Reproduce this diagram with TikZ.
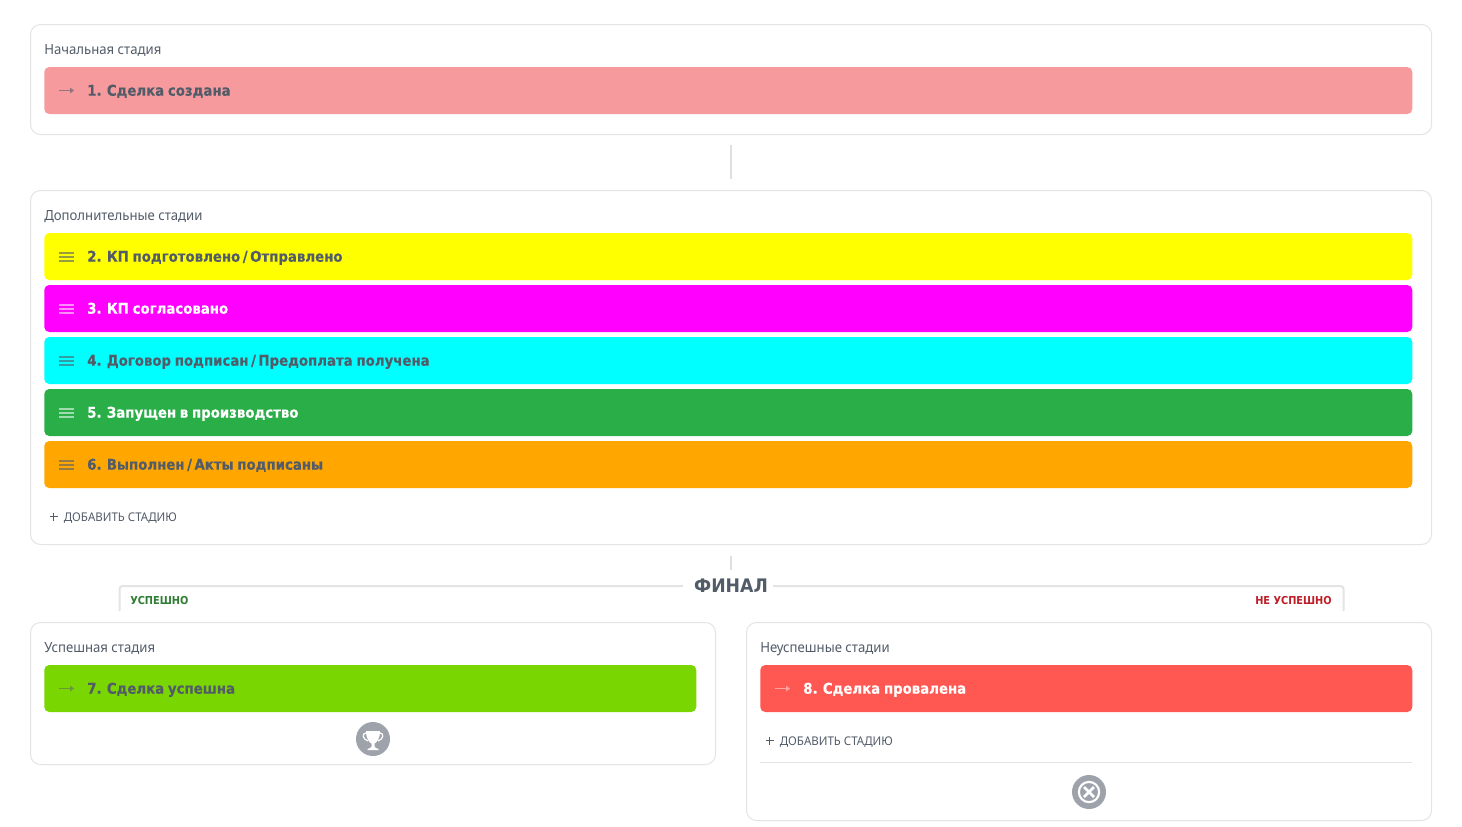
\documentclass[tikz,border=0pt]{standalone}
\usepackage{fontspec}
\setmainfont{DejaVu Sans}
\newfontfamily\lblfont[FakeStretch=0.94]{Noto Sans}
\newfontfamily\addfont[FakeStretch=0.96]{Noto Sans}
\newfontfamily\barfont[FakeStretch=0.90,FakeBold=0.25,WordSpace=0.8]{DejaVu Sans Bold}
\newfontfamily\hdfont[FakeStretch=0.925]{DejaVu Sans Bold}
\newfontfamily\tagfont[FakeStretch=0.895]{DejaVu Sans Bold}
\definecolor{ink}{HTML}{525C69}
\definecolor{edge}{HTML}{E3E4E6}
\definecolor{tick}{HTML}{DDE0E3}
\definecolor{disc}{HTML}{9EA3AB}
\definecolor{b1color}{RGB}{246,154,157}
\definecolor{b2color}{RGB}{255,255,0}
\definecolor{b3color}{RGB}{255,0,255}
\definecolor{b4color}{RGB}{0,255,255}
\definecolor{b5color}{RGB}{41,174,72}
\definecolor{b6color}{RGB}{255,166,0}
\definecolor{b7color}{RGB}{122,214,0}
\definecolor{b8color}{RGB}{255,87,82}
\definecolor{okcolor}{RGB}{46,125,50}
\definecolor{nocolor}{RGB}{190,30,40}
\tikzset{
  x=0.75pt,y=-0.75pt,
  panel/.style={draw=edge,line width=0.75pt,fill=white,rounded corners=7.5pt,inner sep=0pt,minimum width=#1*0.75pt,anchor=north west},
  stagebar/.style={rounded corners=3.75pt,inner sep=0pt,minimum height=35.25pt,minimum width=#1*0.75pt,anchor=west},
  plab/.style={anchor=west,inner sep=0pt,text=ink,text height=11pt,text depth=2.5pt,font=\lblfont\fontsize{10.5pt}{12pt}\selectfont},
  btext/.style={anchor=west,inner sep=0pt,text height=10.3pt,text depth=2.5pt,font=\barfont\fontsize{11.1pt}{13pt}\selectfont},
  addlab/.style={anchor=west,inner sep=0pt,text=ink,font=\addfont\fontsize{9pt}{11pt}\selectfont},
  wire/.style={draw=edge,line width=1.5pt},
  stem/.style={draw=tick,line width=1.5pt},
  tag/.style={inner sep=0pt,font=\tagfont\fontsize{8.2pt}{10pt}\selectfont},
}
\newcommand{\slsh}{\kern1.9pt/\kern1.9pt}
\newcommand{\hamb}[3]{\foreach \d in {-4,0,4}{\draw[#3,line width=0.9pt] (#1,#2+\d)--(#1+14.5,#2+\d);}}
\newcommand{\arrw}[3]{\draw[#3,line width=1.4pt] (#1,#2)--(#1+12,#2);\fill[#3] (#1+11,#2-3)--(#1+15,#2)--(#1+11,#2+3)--cycle;}
\newcommand{\plusm}[2]{\draw[ink,line width=1.2pt] (#1-4,#2)--(#1+4,#2) (#1,#2-4)--(#1,#2+4);}
\begin{document}
\begin{tikzpicture}
\useasboundingbox (0,0) rectangle (1462,826);
\fill[white] (0,0) rectangle (1462,826);
% panels
\node[panel=1401,minimum height=82.5pt] (p1) at (30,24) {};
\node[panel=1401,minimum height=265.5pt] (p2) at (30,190) {};
\node[panel=685,minimum height=106.5pt] (p3) at (30,622) {};
\node[panel=685,minimum height=148.5pt] (p4) at (746,622) {};
% panel labels
\node[plab] (l1) at (44,49) {Начальная стадия};
\node[plab] (l2) at (44,215) {Дополнительные стадии};
\node[plab] (l3) at (44,647) {Успешная стадия};
\node[plab] (l4) at (760,647) {Неуспешные стадии};
% bars
\node[stagebar=1368,fill=b1color] (b1) at (44,90.5) {};
\node[stagebar=1368,fill=b2color] (b2) at (44,256.5) {};
\node[stagebar=1368,fill=b3color] (b3) at (44,308.5) {};
\node[stagebar=1368,fill=b4color] (b4) at (44,360.5) {};
\node[stagebar=1368,fill=b5color] (b5) at (44,412.5) {};
\node[stagebar=1368,fill=b6color] (b6) at (44,464.5) {};
\node[stagebar=652,fill=b7color] (b7) at (44,688.5) {};
\node[stagebar=652,fill=b8color] (b8) at (760,688.5) {};
% bar texts
\node[btext,text=ink] (t1) at (87,90.5) {1. Сделка создана};
\node[btext,text=ink] (t2) at (87,256.5) {2. КП подготовлено\slsh Отправлено};
\node[btext,text=white] (t3) at (87,308.5) {3. КП согласовано};
\node[btext,text=ink] (t4) at (87,360.5) {4. Договор подписан\slsh Предоплата получена};
\node[btext,text=white] (t5) at (87,412.5) {5. Запущен в производство};
\node[btext,text=ink] (t6) at (87,464.5) {6. Выполнен\slsh Акты подписаны};
\node[btext,text=ink] (t7) at (87,688.5) {7. Сделка успешна};
\node[btext,text=white] (t8) at (803,688.5) {8. Сделка провалена};
% icons in bars
\arrw{59}{90.5}{ink!60!b1color}
\hamb{59}{257}{ink!60!b2color}
\hamb{59}{309}{white!55!b3color}
\hamb{59}{361}{ink!60!b4color}
\hamb{59}{413}{white!55!b5color}
\hamb{59}{465}{ink!60!b6color}
\arrw{59}{688.5}{ink!50!b7color}
\arrw{775}{688.5}{white!45!b8color}
% add stage
\plusm{53.5}{516.5}
\node[addlab] (a1) at (63.5,518) {ДОБАВИТЬ СТАДИЮ};
\plusm{769.5}{740.5}
\node[addlab] (a2) at (779.5,742) {ДОБАВИТЬ СТАДИЮ};
\draw[draw=edge,line width=0.75pt] (760,762.5)--(1412,762.5);
% connectors
\coordinate (s1a) at (731,144.5);
\coordinate (s1b) at (731,178.5);
\coordinate (s2a) at (731,555.5);
\coordinate (s2b) at (731,570);
\draw[stem] (s1a)--(s1b);
\draw[stem] (s2a)--(s2b);
\node[inner sep=0pt,text=ink,font=\hdfont\fontsize{14pt}{16pt}\selectfont] (fin) at (731,585.5) {ФИНАЛ};
\coordinate (wl) at (119.5,611);
\coordinate (wr) at (1343.5,611);
\draw[wire,rounded corners=2.25pt] (wl)|-(683,586);
\draw[wire,rounded corners=2.25pt] (wr)|-(773,586);
\node[tag,anchor=west,text=okcolor] (ok) at (130,600.7) {УСПЕШНО};
\node[tag,anchor=east,text=nocolor] (no) at (1332,600.7) {НЕ УСПЕШНО};
% trophy
\node[circle,fill=disc,minimum size=25.5pt,inner sep=0pt] (cup) at (373,739) {};
\fill[white] (366,731) -- (380,731) .. controls (380,739) and (376.5,742.5) .. (374.5,743.5) -- (374.5,746.5) .. controls (375,748) and (377,748.5) .. (378.5,749) -- (378.5,750) -- (367.5,750) -- (367.5,749) .. controls (369,748.5) and (371,748) .. (371.5,746.5) -- (371.5,743.5) .. controls (369.5,742.5) and (366,739) .. (366,731) -- cycle;
\draw[white,line width=0.9pt] (366,733) .. controls (362,733) and (362,739) .. (368,741);
\draw[white,line width=0.9pt] (380,733) .. controls (384,733) and (384,739) .. (378,741);
% fail
\node[circle,fill=disc,minimum size=25.5pt,inner sep=0pt] (fail) at (1089,792) {};
\draw[white,line width=1.6pt] (fail.center) circle[radius=7.6pt];
\draw[white,line width=2pt] (1084,787)--(1094,797) (1094,787)--(1084,797);
\end{tikzpicture}
\end{document}
